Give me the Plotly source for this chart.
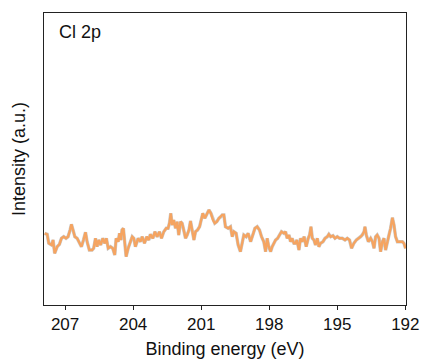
import plotly.graph_objects as go

binding_energy = [
    207.90, 207.79, 207.72, 207.60, 207.53, 207.46, 207.35, 207.25, 207.16, 207.06,
    206.96, 206.87, 206.78, 206.72, 206.65, 206.57, 206.47, 206.37, 206.28, 206.19,
    206.10, 206.03, 205.93, 205.81, 205.74, 205.66, 205.59, 205.52, 205.43, 205.34,
    205.25, 205.18, 205.10, 205.00, 204.90, 204.81, 204.75, 204.66, 204.60, 204.54,
    204.49, 204.43, 204.37, 204.31, 204.22, 204.12,
    204.04, 203.97, 203.90, 203.78, 203.68, 203.60, 203.50, 203.40, 203.31, 203.24,
    203.13, 203.04, 202.94, 202.84, 202.75, 202.65, 202.54, 202.46, 202.40, 202.34,
    202.28, 202.21, 202.13, 202.06, 201.99, 201.91, 201.84, 201.77, 201.69, 201.62,
    201.54, 201.47, 201.40, 201.32, 201.25, 201.16, 201.07, 200.99, 200.93, 200.84,
    200.75, 200.66, 200.57, 200.48, 200.40, 200.31, 200.22, 200.13,
    200.07, 200.00, 199.93, 199.81, 199.71, 199.63, 199.56, 199.46, 199.37, 199.27,
    199.19, 199.12, 199.02, 198.93, 198.82, 198.72, 198.63, 198.53, 198.43, 198.34,
    198.24, 198.16, 198.09, 198.02, 197.94, 197.87, 197.79, 197.72, 197.63, 197.54,
    197.46, 197.35, 197.28, 197.21, 197.13, 197.06, 196.99, 196.91, 196.84, 196.78,
    196.69, 196.62, 196.54, 196.46, 196.37, 196.28, 196.22, 196.16,
    196.10, 196.03, 195.96, 195.88, 195.81, 195.74, 195.63, 195.54, 195.44, 195.37,
    195.29, 195.19, 195.10, 195.00, 194.90, 194.78, 194.66, 194.56, 194.46, 194.37,
    194.27, 194.16, 194.04, 193.97, 193.90, 193.82, 193.78, 193.72, 193.63, 193.53,
    193.45, 193.38, 193.31, 193.24, 193.16, 193.09, 193.01, 192.94, 192.87, 192.79,
    192.72, 192.65, 192.57, 192.50, 192.43, 192.35, 192.28, 192.21, 192.13, 192.06,
    191.99,
]

intensity = [
    71.7, 70.7, 61.7, 60.0, 65.0, 51.7, 58.3, 60.7, 66.7, 68.3,
    66.7, 68.3, 75.0, 80.7, 75.0, 68.3, 66.7, 61.7, 58.3, 65.0,
    72.7, 63.3, 55.0, 55.0, 56.7, 66.7, 58.3, 65.0, 60.0, 66.7,
    61.7, 66.7, 56.7, 58.3, 56.7, 50.0, 66.7, 63.3, 71.7, 65.0,
    75.0, 76.7, 63.3, 48.3, 56.7, 63.3,
    68.3, 66.7, 58.3, 66.7, 63.3, 68.3, 61.7, 68.3, 65.0, 70.7,
    66.7, 73.3, 68.3, 73.3, 66.7, 73.3, 76.7, 76.7, 81.7, 91.7,
    80.0, 85.0, 76.7, 83.3, 70.0, 83.3, 81.7, 75.0, 66.7, 70.0,
    75.0, 84.0, 73.3, 65.0, 73.3, 75.0, 78.3, 88.3, 91.7, 86.7,
    91.7, 95.0, 91.7, 85.0, 81.7, 83.3, 86.7, 88.3,
    90.0, 90.0, 78.3, 76.7, 78.3, 68.3, 73.3, 71.7, 60.0, 53.3,
    63.3, 70.0, 68.3, 71.7, 63.3, 70.0, 76.7, 78.3, 75.0, 68.3,
    63.3, 53.3, 66.7, 58.3, 53.3, 58.3, 61.7, 65.0, 66.7, 70.0,
    73.3, 71.7, 73.3, 66.7, 70.0, 63.3, 66.7, 61.7, 61.7, 65.0,
    55.0, 66.7, 63.3, 68.3, 58.3, 66.7, 70.0, 78.3,
    66.7, 65.0, 60.0, 66.7, 58.3, 61.7, 63.3, 66.7, 68.3, 70.7,
    68.3, 69.3, 66.7, 68.3, 66.7, 66.7, 65.0, 66.7, 65.0, 56.7,
    61.7, 65.0, 66.7, 68.3, 70.0, 73.3, 78.3, 70.0, 63.3, 66.7,
    63.3, 56.7, 68.3, 70.0, 66.7, 53.3, 63.3, 66.7, 55.0, 65.0,
    70.0, 76.7, 87.3, 80.0, 68.3, 63.3, 63.3, 62.7, 63.3, 61.7,
    56.7,
]

x_tick_values = [207, 204, 201, 198, 195, 192]
x_tick_labels = ["207", "204", "201", "198", "195", "192"]

FONT = "Arial, 'Liberation Sans', sans-serif"

fig = go.Figure()
fig.add_trace(go.Scatter(
    x=binding_energy, y=intensity, mode="lines",
    line=dict(color="rgba(160,160,160,0.55)", width=3.4),
    hoverinfo="skip", showlegend=False,
))
fig.add_trace(go.Scatter(
    x=binding_energy, y=intensity, mode="lines",
    line=dict(color="#F5A461", width=2.4),
    showlegend=False,
))

fig.add_annotation(
    text="Cl 2p", xref="paper", yref="paper", x=0.036, y=0.975,
    xanchor="left", yanchor="top", showarrow=False,
    font=dict(family=FONT, size=18, color="#111"),
)

fig.update_layout(
    width=423, height=361,
    margin=dict(l=44, r=17, t=13, b=56),
    paper_bgcolor="white", plot_bgcolor="white",
    font=dict(family=FONT, color="#111"),
    xaxis=dict(
        range=[207.93, 191.97], automargin=False,
        tickvals=x_tick_values, ticktext=x_tick_labels,
        ticks="outside", ticklen=4, tickcolor="#222", tickwidth=1,
        tickfont=dict(family=FONT, size=17, color="#111"),
        showline=True, linecolor="#222", linewidth=1, mirror=True,
        showgrid=False, zeroline=False,
        title=dict(text="Binding energy (eV)", font=dict(family=FONT, size=18, color="#111"), standoff=8),
    ),
    yaxis=dict(
        range=[0, 292], automargin=False,
        showticklabels=False, ticks="",
        showline=True, linecolor="#222", linewidth=1, mirror=True,
        showgrid=False, zeroline=False,
        title=dict(text="Intensity (a.u.)", font=dict(family=FONT, size=18, color="#111"), standoff=12),
    ),
)

fig.write_html("out.html")
